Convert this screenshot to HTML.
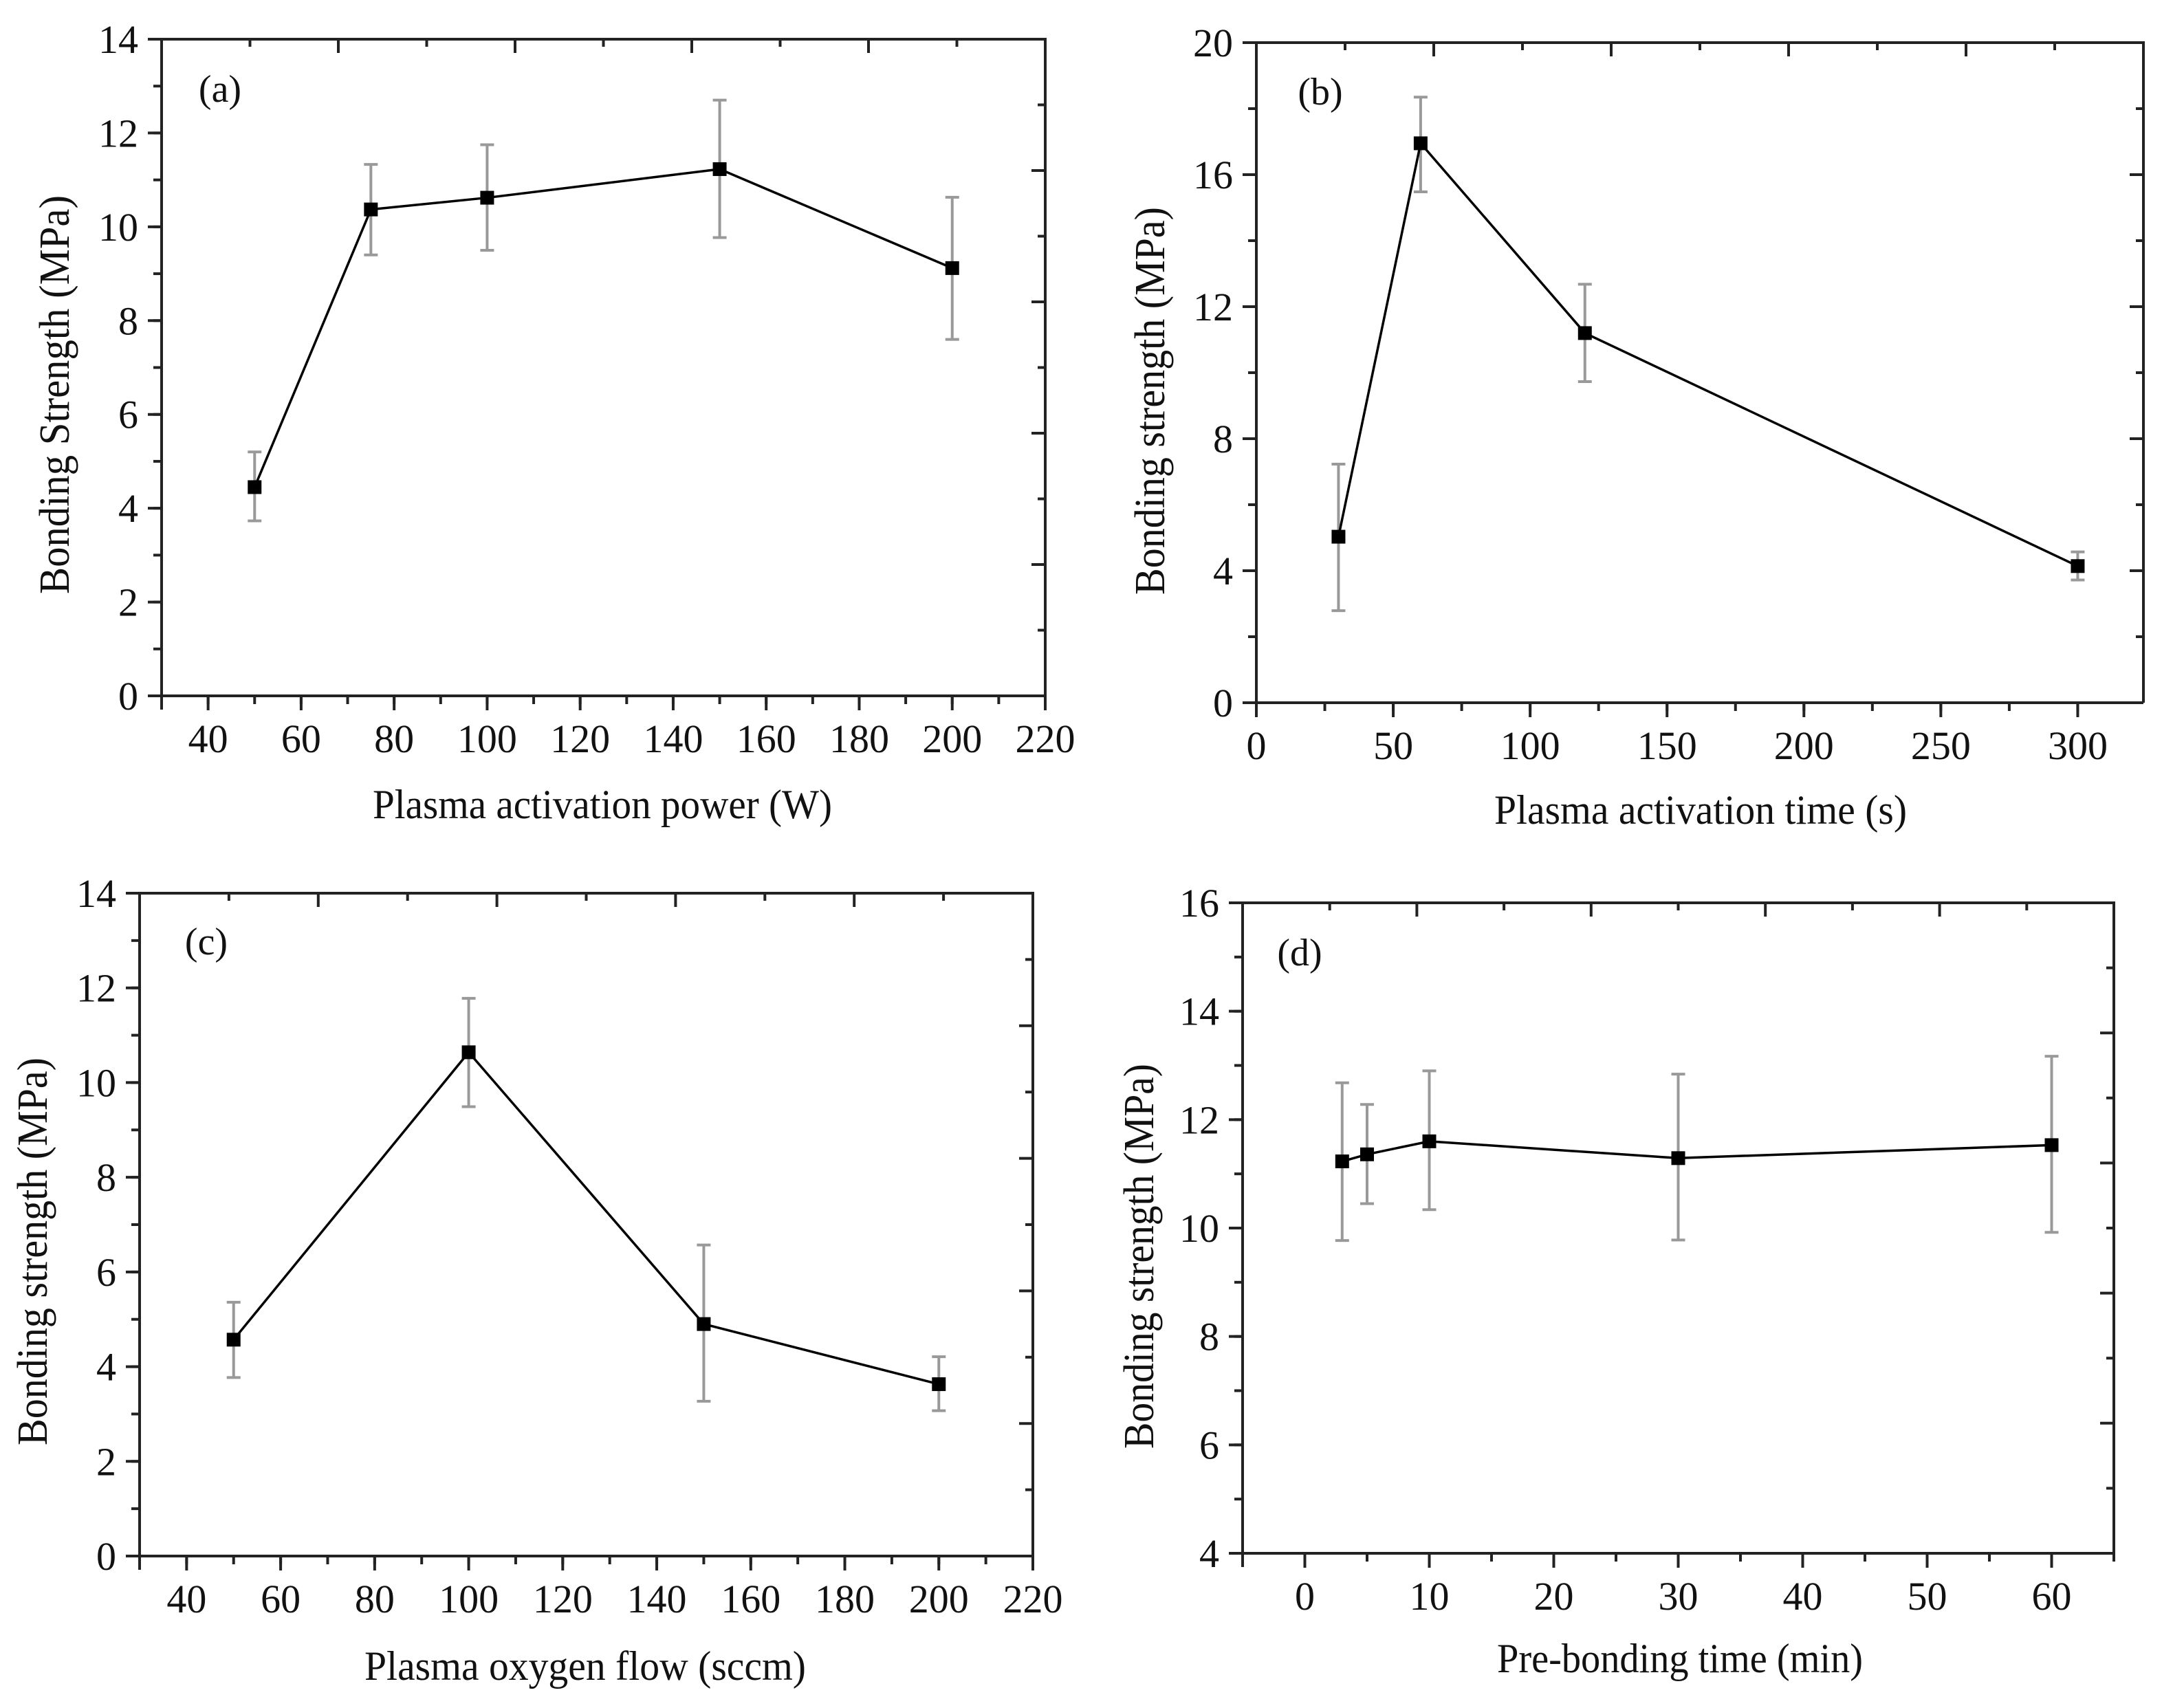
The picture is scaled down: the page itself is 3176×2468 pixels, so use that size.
<!DOCTYPE html>
<html><head><meta charset="utf-8"><style>
html,body{margin:0;padding:0;background:#fff;}
svg{display:block;}
text{font-family:"Liberation Serif","Times New Roman",serif;fill:#111;}
</style></head><body>
<svg id="fig" width="3176" height="2468" viewBox="0 0 3176 2468" xmlns="http://www.w3.org/2000/svg"></svg>
<script>
// Panel (a)
const aX = [50, 75, 100, 150, 200];
const aY = [4.45, 10.37, 10.62, 11.23, 9.12];
const aHi = [5.2, 11.33, 11.75, 12.7, 10.63];
const aLo = [3.73, 9.4, 9.5, 9.77, 7.6];
// Panel (b)
const bX = [30, 60, 120, 300];
const bY = [5.03, 16.95, 11.2, 4.14];
const bHi = [7.23, 18.35, 12.68, 4.57];
const bLo = [2.79, 15.48, 9.73, 3.72];
// Panel (c)
const cX = [50, 100, 150, 200];
const cY = [4.57, 10.64, 4.9, 3.63];
const cHi = [5.36, 11.78, 6.57, 4.21];
const cLo = [3.77, 9.49, 3.27, 3.07];
// Panel (d)
const dX = [3, 5, 10, 30, 60];
const dY = [11.23, 11.36, 11.6, 11.29, 11.53];
const dHi = [12.68, 12.28, 12.9, 12.84, 13.17];
const dLo = [9.77, 10.45, 10.34, 9.78, 9.92];

const aXTicks = [40, 60, 80, 100, 120, 140, 160, 180, 200, 220];
const aYTicks = [0, 2, 4, 6, 8, 10, 12, 14];
const bXTicks = [0, 50, 100, 150, 200, 250, 300];
const bYTicks = [0, 4, 8, 12, 16, 20];
const cXTicks = [40, 60, 80, 100, 120, 140, 160, 180, 200, 220];
const cYTicks = [0, 2, 4, 6, 8, 10, 12, 14];
const dXTicks = [0, 10, 20, 30, 40, 50, 60];
const dYTicks = [4, 6, 8, 10, 12, 14, 16];

const NS = "http://www.w3.org/2000/svg";
const fig = document.getElementById('fig');
function mk(tag, attrs, parent) {
  const e = document.createElementNS(NS, tag);
  for (const k in attrs) e.setAttribute(k, attrs[k]);
  parent.appendChild(e);
  return e;
}

const panels = [
  {id:'a', L:235, R:1520, T:57, B:1012, xd:[30,220], yd:[0,14], xmin:10, ymin:1, X:aX, Y:aY, Hi:aHi, Lo:aLo, xt:aXTicks, yt:aYTicks,
   lab:'(a)', lx:320, ly:148, xtitle:'Plasma activation power (W)', xtx:876, xty:1190, ytitle:'Bonding Strength (MPa)', ytx:100, yty:574, ylen:580, xlen:668},
  {id:'b', L:1827, R:3117, T:62, B:1022, xd:[0,324], yd:[0,20], xmin:25, ymin:2, X:bX, Y:bY, Hi:bHi, Lo:bLo, xt:bXTicks, yt:bYTicks,
   lab:'(b)', lx:1920, ly:152, xtitle:'Plasma activation time (s)', xtx:2473, xty:1198, ytitle:'Bonding strength (MPa)', ytx:1693, yty:583, ylen:564, xlen:600},
  {id:'c', L:203, R:1502, T:1299, B:2263, xd:[30,220], yd:[0,14], xmin:10, ymin:1, X:cX, Y:cY, Hi:cHi, Lo:cLo, xt:cXTicks, yt:cYTicks,
   lab:'(c)', lx:300, ly:1388, xtitle:'Plasma oxygen flow (sccm)', xtx:851, xty:2443, ytitle:'Bonding strength (MPa)', ytx:68, yty:1820, ylen:564, xlen:642},
  {id:'d', L:1807, R:3074, T:1313, B:2259, xd:[-5,65], yd:[4,16], xmin:5, ymin:1, X:dX, Y:dY, Hi:dHi, Lo:dLo, xt:dXTicks, yt:dYTicks,
   lab:'(d)', lx:1890, ly:1404, xtitle:'Pre-bonding time (min)', xtx:2443, xty:2432, ytitle:'Bonding strength (MPa)', ytx:1677, yty:1827, ylen:560, xlen:532}
];

panels.forEach(p => {
  const g = mk('g', {}, fig);
  
  
  const sx = v => p.L + (v - p.xd[0]) / (p.xd[1] - p.xd[0]) * (p.R - p.L);
  const sy = v => p.B - (v - p.yd[0]) / (p.yd[1] - p.yd[0]) * (p.B - p.T);
  const W = p.R - p.L, H = p.B - p.T;

  const fr = mk('path', {d:`M${p.L-20},${p.T} L${p.R},${p.T} L${p.R},${p.B} M${p.L-20},${p.B} L${p.R},${p.B} M${p.L},${p.T} L${p.L},${p.B+20}`, stroke:'#222', 'stroke-width':4, fill:'none'}, g);
  
  

  for (let i = 1; i < 10; i++) {
    const len = (i % 2 === 0) ? 20 : 11;
    const tx = p.L + W * i / 10;
    const t1 = mk('line', {x1:tx, y1:p.T, x2:tx, y2:p.T+len, stroke:'#222', 'stroke-width':4}, g);
    
    
    const ty = p.B - H * i / 10;
    const t2 = mk('line', {x1:p.R, y1:ty, x2:p.R-len, y2:ty, stroke:'#222', 'stroke-width':4}, g);
    
    
  }

  for (let v = Math.ceil(p.xd[0]/p.xmin)*p.xmin; v <= p.xd[1] + 1e-9; v += p.xmin) {
    const t = mk('line', {x1:sx(v), y1:p.B, x2:sx(v), y2:p.B+12, stroke:'#222', 'stroke-width':4}, g);
    
    
  }
  p.xt.forEach(v => {
    const t = mk('line', {x1:sx(v), y1:p.B, x2:sx(v), y2:p.B+21, stroke:'#222', 'stroke-width':4}, g);
    
    
    const l = mk('text', {x:sx(v), y:p.B+82, 'font-size':58, 'text-anchor':'middle'}, g);
    l.textContent = v;
    
    
  });
  for (let v = p.yd[0]; v <= p.yd[1] + 1e-9; v += p.ymin) {
    const t = mk('line', {x1:p.L, y1:sy(v), x2:p.L-12, y2:sy(v), stroke:'#222', 'stroke-width':4}, g);
    
    
  }
  p.yt.forEach(v => {
    const t = mk('line', {x1:p.L, y1:sy(v), x2:p.L-20, y2:sy(v), stroke:'#222', 'stroke-width':4}, g);
    
    
    const l = mk('text', {x:p.L-34, y:sy(v)+20, 'font-size':58, 'text-anchor':'end'}, g);
    l.textContent = v;
    
    
  });

  const xt = mk('text', {x:p.xtx, y:p.xty, 'font-size':60, 'text-anchor':'middle', textLength:p.xlen, lengthAdjust:'spacingAndGlyphs'}, g);
  xt.textContent = p.xtitle;
  
  
  const yt = mk('text', {x:0, y:0, 'font-size':62, 'text-anchor':'middle', textLength:p.ylen, lengthAdjust:'spacingAndGlyphs', transform:`translate(${p.ytx},${p.yty}) rotate(-90)`}, g);
  yt.textContent = p.ytitle;
  
  
  const lb = mk('text', {x:p.lx, y:p.ly, 'font-size':56, 'text-anchor':'middle'}, g);
  lb.textContent = p.lab;
  
  

  p.X.forEach((x, i) => {
    const e = mk('path', {d:`M${sx(x)},${sy(p.Hi[i])} L${sx(x)},${sy(p.Lo[i])} M${sx(x)-10},${sy(p.Hi[i])} L${sx(x)+10},${sy(p.Hi[i])} M${sx(x)-10},${sy(p.Lo[i])} L${sx(x)+10},${sy(p.Lo[i])}`, stroke:'#999', 'stroke-width':4, fill:'none'}, g);
    
    
  });
  const pts = p.X.map((x, i) => sx(x) + ',' + sy(p.Y[i])).join(' ');
  const ln = mk('polyline', {points:pts, stroke:'#000', 'stroke-width':3.5, fill:'none'}, g);
  
  
  p.X.forEach((x, i) => {
    const m = mk('rect', {x:sx(x)-10, y:sy(p.Y[i])-10, width:20, height:20, fill:'#000'}, g);
    
    
  });
});
</script>
</body></html>
